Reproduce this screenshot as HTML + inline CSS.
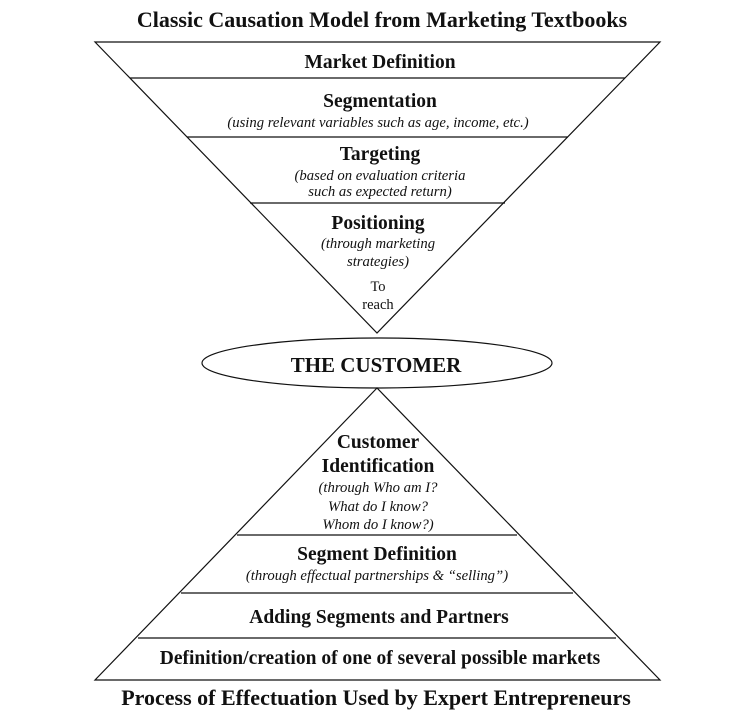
<!DOCTYPE html>
<html><head><meta charset="utf-8"><style>
html,body{margin:0;padding:0;background:#fff}
svg text{font-family:"Liberation Serif",serif;fill:#111}
.b{font-weight:bold;font-size:19.5px}
.i{font-style:italic;font-size:14.7px}
.r{font-size:14.5px}
</style></head><body>
<svg width="741" height="714" viewBox="0 0 741 714" xmlns="http://www.w3.org/2000/svg">
<g stroke="#111" stroke-width="1.2" fill="none">
<polygon points="95,42 660,42 377,333"/>
<line x1="130" y1="78" x2="625" y2="78"/>
<line x1="187" y1="137" x2="568" y2="137"/>
<line x1="250" y1="203" x2="505" y2="203"/>
<ellipse cx="377" cy="363" rx="175" ry="25" fill="#fff"/>
<polygon points="377,388 95,680 660,680"/>
<line x1="237" y1="535" x2="517" y2="535"/>
<line x1="181" y1="593" x2="573" y2="593"/>
<line x1="138" y1="638" x2="616" y2="638"/>
</g>
<g text-anchor="middle">
<text x="382" y="27" class="b" style="font-size:22px">Classic Causation Model from Marketing Textbooks</text>
<text x="380" y="68" class="b">Market Definition</text>
<text x="380" y="107" class="b">Segmentation</text>
<text x="378" y="127" class="i">(using relevant variables such as age, income, etc.)</text>
<text x="380" y="160" class="b">Targeting</text>
<text x="380" y="180" class="i">(based on evaluation criteria</text>
<text x="380" y="196" class="i">such as expected return)</text>
<text x="378" y="229" class="b">Positioning</text>
<text x="378" y="248" class="i">(through marketing</text>
<text x="378" y="266" class="i">strategies)</text>
<text x="378" y="291" class="r">To</text>
<text x="378" y="309" class="r">reach</text>
<text x="376" y="372" class="b" style="font-size:21px">THE CUSTOMER</text>
<text x="378" y="448" class="b">Customer</text>
<text x="378" y="472" class="b">Identification</text>
<text x="378" y="492" class="i">(through Who am I?</text>
<text x="378" y="511" class="i">What do I know?</text>
<text x="378" y="529" class="i">Whom do I know?)</text>
<text x="377" y="560" class="b">Segment Definition</text>
<text x="377" y="580" class="i">(through effectual partnerships &amp; “selling”)</text>
<text x="379" y="623" class="b">Adding Segments and Partners</text>
<text x="380" y="664" class="b">Definition/creation of one of several possible markets</text>
<text x="376" y="705" class="b" style="font-size:22px">Process of Effectuation Used by Expert Entrepreneurs</text>
</g>
</svg>
</body></html>
